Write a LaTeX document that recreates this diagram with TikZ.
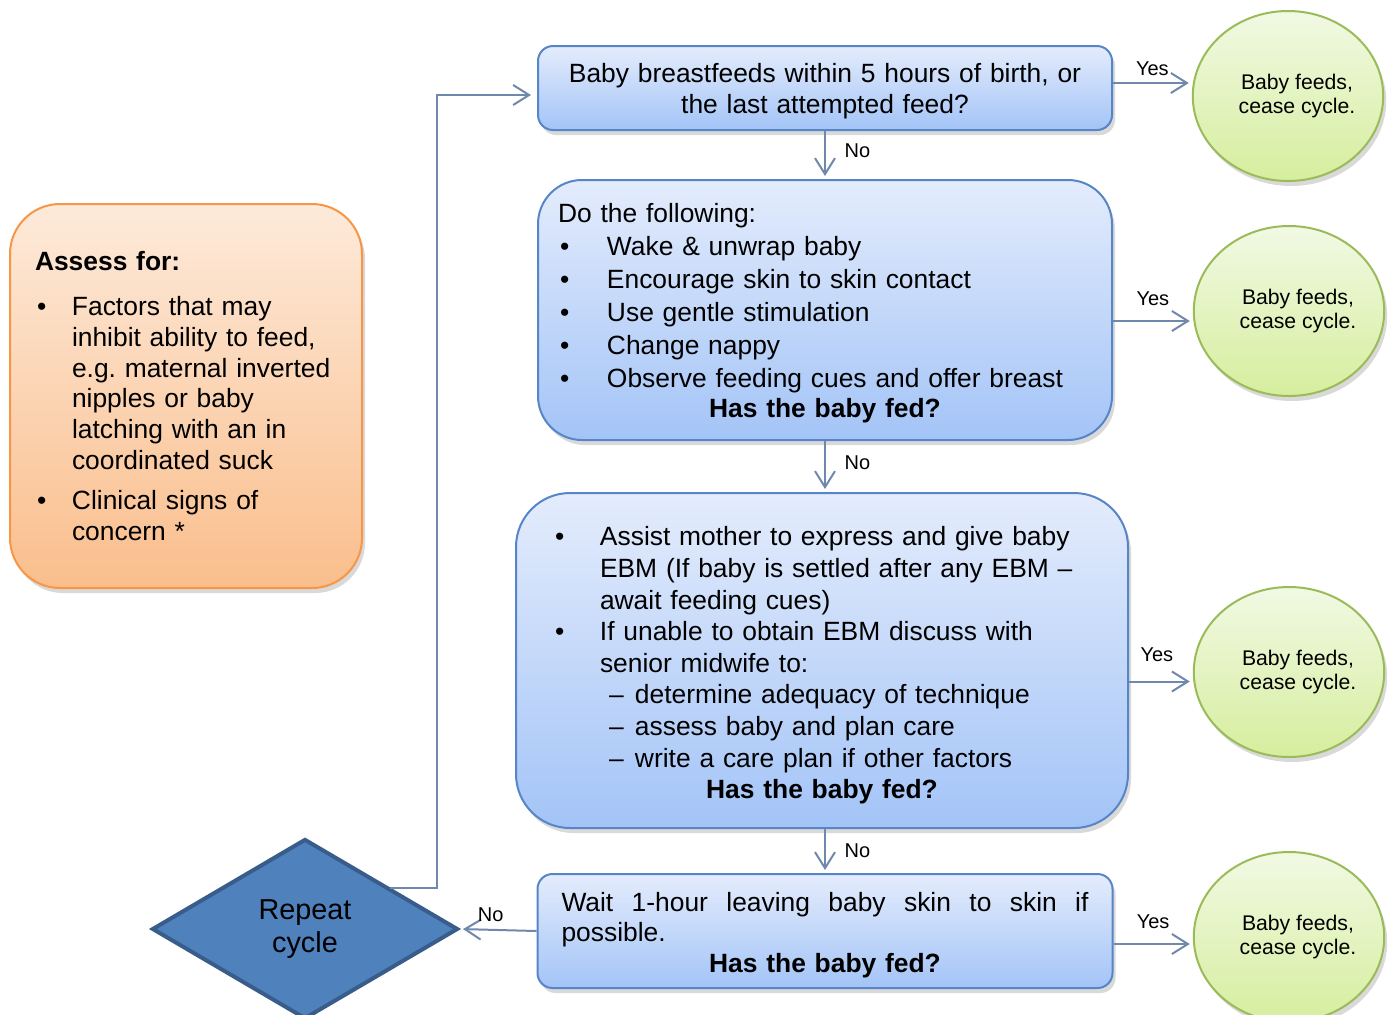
\documentclass[tikz,border=0pt]{standalone}
\usepackage{fontspec}
\setmainfont{Liberation Sans}
\usetikzlibrary{arrows.meta, shapes.geometric, shadows}
\definecolor{boxedge}{RGB}{86,134,200}
\definecolor{boxtop}{RGB}{228,236,252}
\definecolor{boxbot}{RGB}{163,196,247}
\definecolor{orangeedge}{RGB}{247,150,70}
\definecolor{orangetop}{RGB}{253,234,218}
\definecolor{orangebot}{RGB}{250,190,140}
\definecolor{greenedge}{RGB}{155,187,89}
\definecolor{greentop}{RGB}{241,249,228}
\definecolor{greenbot}{RGB}{214,238,158}
\definecolor{diafill}{RGB}{79,129,189}
\definecolor{diaedge}{RGB}{56,93,138}
\definecolor{linkcol}{RGB}{112,136,172}
\newcommand{\bul}[1]{\makebox[#1][l]{\hspace{1pt}\textbullet}}
\newcommand{\dsh}{\makebox[41pt][l]{\hspace{28pt}–}}
\newcommand{\fedq}[1][0pt]{\par\vspace{#1}{\centering\bfseries Has the baby fed?\par}}
\newcommand{\feeds}{\hspace*{9pt}Baby feeds,\\\hspace*{9pt}cease cycle.}
\newcommand{\topgap}[1]{\rule{0pt}{#1}}

\begin{document}
\begin{tikzpicture}[
      x=0.5pt, y=-0.5pt,
      card/.style={draw, line width=1pt, rounded corners=#1, inner ysep=4pt,
                   align=left, font=\fontsize{13.2}{15.5}\selectfont,
                   drop shadow={shadow xshift=1.5pt, shadow yshift=-2.5pt, opacity=.3}},
      bluefill/.style={draw=boxedge, top color=boxtop, bottom color=boxbot},
      orangefill/.style={draw=orangeedge, top color=orangetop, bottom color=orangebot},
      endc/.style={ellipse, draw=greenedge, line width=1pt, top color=greentop,
                   bottom color=greenbot, minimum width=94pt, minimum height=85pt,
                   inner sep=0pt, align=center, font=\fontsize{10.6}{12}\selectfont,
                   drop shadow={shadow xshift=1.5pt, shadow yshift=-2.5pt, opacity=.3}},
      arr/.style={-{Straight Barb[length=8pt, width=10pt]}, line width=1pt,
                  color=linkcol, shorten >=1.5pt},
      lbl/.style={font=\fontsize{10}{12}\selectfont, text=black}
  ]
    \clip (0,0) rectangle (1393,1014);

    \node[card=7.5pt, bluefill, align=center, text width=275pt, inner xsep=6pt,
          minimum height=42pt] (b1) at (825,88)
      {\topgap{12.6pt}Baby breastfeeds within 5 hours of birth, or\\the last attempted feed?};
    \node[card=22pt, bluefill, text width=267pt, inner xsep=10pt, minimum height=130pt,
          font=\fontsize{13.2}{16.5}\selectfont] (b2) at (825,310)
      {\topgap{12.6pt}Do the following:\\
       \bul{24.5pt}Wake \& unwrap baby\\
       \bul{24.5pt}Encourage skin to skin contact\\
       \bul{24.5pt}Use gentle stimulation\\
       \bul{24.5pt}Change nappy\\
       \bul{24.5pt}Observe feeding cues and offer breast\fedq[-1.5pt]};
    \node[card=27pt, bluefill, text width=269pt, inner xsep=18.5pt, minimum height=167.5pt,
          font=\fontsize{13.2}{15.8}\selectfont] (b3) at (822,660.5)
      {\topgap{14.6pt}\bul{23.5pt}Assist mother to express and give baby\\
       \hspace*{23.5pt}EBM (If baby is settled after any EBM –\\
       \hspace*{23.5pt}await feeding cues)\\
       \bul{23.5pt}If unable to obtain EBM discuss with\\
       \hspace*{23.5pt}senior midwife to:\\
       \dsh determine adequacy of technique\\
       \dsh assess baby and plan care\\
       \dsh write a care plan if other factors\fedq};
    \node[card=7.5pt, bluefill, text width=263.5pt, inner xsep=12pt, minimum height=57pt,
          font=\fontsize{13.2}{15.3}\selectfont] (b4) at (825,931)
      {\leavevmode\hbox to 263.5pt{\topgap{13.6pt}Wait\hfil\ 1-hour\hfil\ leaving\hfil\ baby\hfil\ skin\hfil\ to\hfil\ skin\hfil\ if}\\
       possible.\fedq};

    \node[card=25pt, orangefill, text width=151pt, inner xsep=12.5pt, minimum height=192pt,
          font=\fontsize{13.2}{15.4}\selectfont] (assess) at (186,396)
      {{\bfseries Assess for:}\\[7pt]
       \bul{18.5pt}Factors that may\\
       \hspace*{18.5pt}inhibit ability to feed,\\
       \hspace*{18.5pt}e.g.\ maternal inverted\\
       \hspace*{18.5pt}nipples or baby\\
       \hspace*{18.5pt}latching with an in\\
       \hspace*{18.5pt}coordinated suck\\[4.5pt]
       \bul{18.5pt}Clinical signs of\\
       \hspace*{18.5pt}concern *};

    \node[endc] (c1) at (1288,96)  {\feeds};
    \node[endc] (c2) at (1289,311) {\feeds};
    \node[endc] (c3) at (1289,672) {\feeds};
    \node[endc] (c4) at (1289,937) {\feeds};

    \node[diamond, draw=diaedge, fill=diafill, line width=2pt, minimum width=153pt,
          minimum height=90pt, inner sep=0pt, align=center,
          font=\fontsize{14.4}{16.5}\selectfont] (rep) at (305,929) {Repeat\\cycle};

    \draw[arr] (b1.south) -- (b2.north) node[lbl, midway, right=6pt, yshift=2pt] {No};
    \draw[arr] (b2.south) -- (b2.south |- b3.north) node[lbl, midway, right=6pt, yshift=2pt] {No};
    \draw[arr] (b3.south -| b4.north) -- (b4.north) node[lbl, midway, right=6pt] {No};
    \draw[arr] (b4.west) -- (rep.east) node[lbl, pos=0.6, above] {No};

    \draw[arr] ([yshift=2.5pt]b1.east) -- ([yshift=2.5pt]b1.east -| c1.west)
      node[lbl, midway, above] {Yes};
    \draw[arr] ([yshift=-5.5pt]b2.east) -- ([yshift=-5.5pt]b2.east -| c2.west)
      node[lbl, midway, above=4pt] {Yes};
    \draw[arr] ([yshift=-10.5pt]b3.east) -- ([yshift=-10.5pt]b3.east -| c3.west)
      node[lbl, midway, above=6pt, xshift=-2pt] {Yes};
    \draw[arr] ([yshift=-6.5pt]b4.east) -- ([yshift=-6.5pt]b4.east -| c4.west)
      node[lbl, midway, above=4pt] {Yes};

    % loop back to the first question
    \coordinate (loop) at (437,95);
    \draw[arr, shorten >=3pt] (rep.26) -| (loop) -- (loop -| b1.west);
\end{tikzpicture}
\end{document}
